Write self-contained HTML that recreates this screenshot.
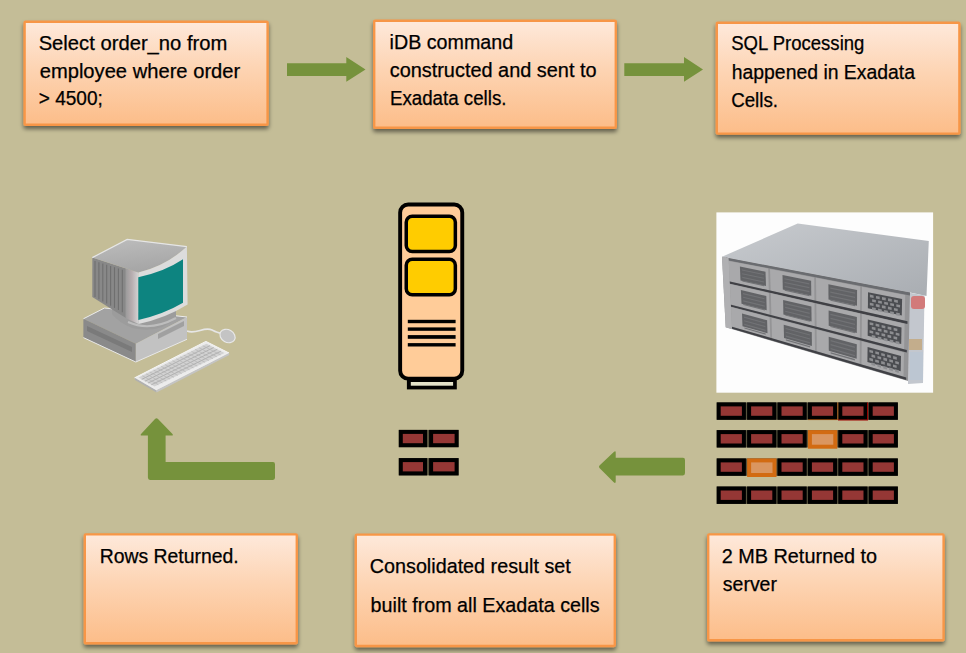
<!DOCTYPE html>
<html><head><meta charset="utf-8">
<style>
html,body{margin:0;padding:0;background:#c4bd97;width:966px;height:653px;overflow:hidden}
svg{position:absolute;left:0;top:0;display:block}
text{font-family:"Liberation Sans",sans-serif;font-size:19.3px;fill:#000;stroke:#000;stroke-width:0.25px}
</style></head><body>
<svg width="966" height="653" viewBox="0 0 966 653">
<defs>
<linearGradient id="g" x1="0" y1="0" x2="0" y2="1">
<stop offset="0" stop-color="#fee9db"/>
<stop offset="0.45" stop-color="#fdd4b3"/>
<stop offset="1" stop-color="#fcbd89"/>
</linearGradient>
<filter id="sh" x="-10%" y="-10%" width="120%" height="130%">
<feGaussianBlur in="SourceAlpha" stdDeviation="2.2"/>
<feOffset dx="0" dy="2.5" result="b"/>
<feComponentTransfer><feFuncA type="linear" slope="0.5"/></feComponentTransfer>
<feMerge><feMergeNode/><feMergeNode in="SourceGraphic"/></feMerge>
</filter>
<linearGradient id="stop" x1="0" y1="0" x2="1" y2="1">
<stop offset="0" stop-color="#c8cbcf"/><stop offset="1" stop-color="#a9adb2"/>
</linearGradient>
<linearGradient id="bzs" x1="0" y1="0" x2="1" y2="0">
<stop offset="0" stop-color="#9a9a9a"/><stop offset="0.5" stop-color="#b8aeb0"/><stop offset="1" stop-color="#d4d4d4"/>
</linearGradient>
<pattern id="kb" width="3" height="3" patternUnits="userSpaceOnUse"><rect width="3" height="3" fill="#d8d8d8"/><rect width="2" height="2" fill="#bdbdbd"/></pattern>
<filter id="bl" x="-5%" y="-5%" width="110%" height="110%"><feGaussianBlur stdDeviation="0.55"/></filter>
<linearGradient id="mtop" x1="0" y1="0" x2="0.3" y2="1">
<stop offset="0" stop-color="#bdbdbd"/><stop offset="1" stop-color="#a6a6a6"/>
</linearGradient>
</defs>
<rect width="966" height="653" fill="#c4bd97"/>

<!-- boxes -->
<g filter="url(#sh)" stroke="#f79646" stroke-width="2.4" fill="url(#g)">
<rect x="24.6" y="21.7" width="243" height="103.1" rx="0.9"/>
<rect x="374.2" y="20.7" width="241.6" height="107.1" rx="0.9"/>
<rect x="716.8" y="22.8" width="242.6" height="110.8" rx="0.9"/>
<rect x="84.8" y="534.4" width="212" height="108.9" rx="0.9"/>
<rect x="355.8" y="534.6" width="259" height="111.4" rx="0.9"/>
<rect x="708.2" y="534.4" width="235.4" height="105.9" rx="0.9"/>
</g>

<!-- arrows -->
<g fill="#76923c">
<path d="M287 63.3H346.3V57L365.5 69.4L346.3 81.7V75.9H287Z"/>
<path d="M624.3 63.3H684V57L703 69.4L684 81.7V75.9H624.3Z"/>
<path d="M685 460Q685 457.8 683 457.8H615.7V452.5Q615.7 450.2 613.8 452L599.5 465.5Q598.3 466.7 599.5 468L613.5 482Q615.7 484 615.7 481.5V475.4H683Q685 475.4 685 473Z"/>
<path d="M275 464.2Q275 462.1 273 462.1H165.6V435.6H171.5Q174 435.6 172 433.5L158 419Q156.5 417.5 155 419L141.5 433.5Q139.5 435.6 142 435.6H147.9V477.5Q147.9 479.9 150 479.9H273Q275 479.9 275 477.8Z"/>
</g>

<rect x="716.4" y="212.4" width="216.7" height="180.3" fill="#fdfdfd"/>
<g filter="url(#bl)">
<polygon points="722,256.8 797.7,223.5 928.8,241 926.5,296 910,292.5" fill="url(#stop)"/>
<polygon points="908.5,292.5 924.5,295.5 923,383 908,384" fill="#c3c7ce"/>
<polygon points="722.0,256.8 910.0,292.5 908.0,381.0 725.7,327.3" fill="#949496" />
<polygon points="725.8,257.5 910.0,292.5 909.9,295.6 725.9,260.0" fill="#6a6c70" />
<polygon points="728.7,260.9 768.2,268.5 768.8,290.3 729.7,281.5" fill="#a9a9ab" />
<polygon points="739.9,266.6 765.5,271.7 766.0,285.9 740.5,280.4" fill="#626366" />
<polygon points="741.9,269.6 763.7,274.0 763.8,275.1 741.9,270.6" fill="#727376" />
<polygon points="742.1,273.2 763.8,277.7 763.9,278.8 742.1,274.3" fill="#727376" />
<polygon points="742.2,276.8 764.0,281.4 764.0,282.5 742.3,277.9" fill="#727376" />
<polygon points="742.4,280.4 764.1,285.1 764.1,286.3 742.4,281.5" fill="#727376" />
<polygon points="770.0,268.9 814.2,277.5 814.4,300.5 770.7,290.7" fill="#a9a9ab" />
<polygon points="782.5,275.1 811.1,280.8 811.3,295.8 782.8,289.6" fill="#626366" />
<polygon points="784.4,278.2 809.3,283.2 809.3,284.4 784.4,279.3" fill="#727376" />
<polygon points="784.5,282.0 809.3,287.1 809.3,288.3 784.5,283.1" fill="#727376" />
<polygon points="784.6,285.8 809.4,291.1 809.4,292.3 784.6,287.0" fill="#727376" />
<polygon points="784.7,289.6 809.4,295.0 809.5,296.2 784.7,290.8" fill="#727376" />
<polygon points="816.0,277.8 860.2,286.4 860.0,310.7 816.3,300.9" fill="#a9a9ab" />
<polygon points="828.4,284.3 857.1,290.0 857.0,305.8 828.5,299.6" fill="#626366" />
<polygon points="830.3,287.5 855.2,292.5 855.2,293.8 830.3,288.7" fill="#727376" />
<polygon points="830.3,291.5 855.1,296.7 855.1,297.9 830.3,292.7" fill="#727376" />
<polygon points="830.3,295.6 855.1,300.8 855.1,302.1 830.4,296.8" fill="#727376" />
<polygon points="830.4,299.6 855.1,305.0 855.1,306.2 830.4,300.8" fill="#727376" />
<polygon points="862.0,286.8 905.2,295.1 904.7,320.7 861.9,311.1" fill="#a9a9ab" />
<polygon points="868.0,292.2 902.1,298.9 901.8,315.6 867.9,308.2" fill="#4c4d51" />
<polygon points="869.9,294.6 873.6,295.4 873.6,297.9 869.9,297.2" fill="#8d8e91" />
<polygon points="872.1,299.2 875.9,299.9 875.8,302.5 872.1,301.7" fill="#8d8e91" />
<polygon points="869.8,302.8 873.6,303.6 873.5,306.1 869.8,305.3" fill="#8d8e91" />
<polygon points="872.0,307.3 875.8,308.1 875.7,310.7 872.0,309.9" fill="#8d8e91" />
<polygon points="876.0,295.9 879.7,296.6 879.7,299.2 875.9,298.4" fill="#8d8e91" />
<polygon points="878.2,300.4 881.9,301.2 881.9,303.8 878.1,303.0" fill="#8d8e91" />
<polygon points="875.9,304.0 879.6,304.8 879.6,307.4 875.8,306.6" fill="#8d8e91" />
<polygon points="878.1,308.6 881.8,309.4 881.8,312.0 878.0,311.2" fill="#8d8e91" />
<polygon points="882.0,297.1 885.8,297.8 885.7,300.4 882.0,299.7" fill="#8d8e91" />
<polygon points="884.2,301.7 888.0,302.4 887.9,305.0 884.2,304.2" fill="#8d8e91" />
<polygon points="881.9,305.3 885.6,306.1 885.6,308.7 881.9,307.9" fill="#8d8e91" />
<polygon points="884.1,309.9 887.8,310.7 887.8,313.3 884.1,312.5" fill="#8d8e91" />
<polygon points="888.1,298.3 891.8,299.1 891.8,301.7 888.0,300.9" fill="#8d8e91" />
<polygon points="890.3,302.9 894.0,303.7 894.0,306.3 890.2,305.5" fill="#8d8e91" />
<polygon points="888.0,306.6 891.7,307.4 891.6,310.0 887.9,309.2" fill="#8d8e91" />
<polygon points="890.1,311.2 893.9,312.0 893.8,314.6 890.1,313.8" fill="#8d8e91" />
<polygon points="894.1,299.5 897.9,300.3 897.8,302.9 894.1,302.1" fill="#8d8e91" />
<polygon points="896.3,304.2 900.1,304.9 900.0,307.6 896.3,306.8" fill="#8d8e91" />
<polygon points="894.0,307.9 897.7,308.7 897.7,311.3 893.9,310.5" fill="#8d8e91" />
<polygon points="896.2,312.5 899.9,313.3 899.8,316.0 896.1,315.2" fill="#8d8e91" />
<polygon points="728.8,281.3 907.5,321.3 907.4,323.9 728.9,283.4" fill="#3f4145" />
<polygon points="729.9,284.0 768.9,292.9 769.6,314.6 730.9,304.6" fill="#a9a9ab" />
<polygon points="740.9,290.1 766.3,296.0 766.7,310.2 741.5,303.8" fill="#626366" />
<polygon points="742.9,293.1 764.5,298.2 764.6,299.3 743.0,294.2" fill="#727376" />
<polygon points="743.1,296.7 764.6,301.9 764.7,303.0 743.1,297.8" fill="#727376" />
<polygon points="743.2,300.3 764.8,305.6 764.8,306.7 743.3,301.4" fill="#727376" />
<polygon points="743.4,303.9 764.9,309.3 764.9,310.5 743.4,305.0" fill="#727376" />
<polygon points="770.8,293.3 814.5,303.2 814.7,326.2 771.4,315.1" fill="#a9a9ab" />
<polygon points="783.1,299.9 811.4,306.5 811.6,321.5 783.4,314.4" fill="#626366" />
<polygon points="785.0,303.0 809.6,308.8 809.6,310.0 785.0,304.2" fill="#727376" />
<polygon points="785.1,306.8 809.7,312.8 809.7,314.0 785.1,308.0" fill="#727376" />
<polygon points="785.2,310.7 809.7,316.7 809.7,317.9 785.2,311.8" fill="#727376" />
<polygon points="785.3,314.5 809.8,320.7 809.8,321.8 785.3,315.6" fill="#727376" />
<polygon points="816.3,303.7 860.0,313.6 859.9,337.9 816.6,326.7" fill="#a9a9ab" />
<polygon points="828.6,310.5 856.9,317.1 856.8,332.9 828.7,325.8" fill="#626366" />
<polygon points="830.4,313.7 855.1,319.6 855.0,320.8 830.4,315.0" fill="#727376" />
<polygon points="830.5,317.8 855.0,323.7 855.0,325.0 830.5,319.0" fill="#727376" />
<polygon points="830.5,321.8 855.0,327.9 855.0,329.1 830.5,323.0" fill="#727376" />
<polygon points="830.5,325.9 855.0,332.0 855.0,333.3 830.5,327.1" fill="#727376" />
<polygon points="861.9,314.0 904.6,323.7 904.1,349.3 861.7,338.4" fill="#a9a9ab" />
<polygon points="867.8,319.6 901.5,327.5 901.2,344.1 867.7,335.7" fill="#4c4d51" />
<polygon points="869.6,322.2 873.4,323.0 873.3,325.6 869.6,324.7" fill="#8d8e91" />
<polygon points="871.8,326.8 875.5,327.6 875.5,330.2 871.8,329.3" fill="#8d8e91" />
<polygon points="869.6,330.3 873.3,331.2 873.2,333.7 869.5,332.8" fill="#8d8e91" />
<polygon points="871.8,334.9 875.4,335.8 875.4,338.4 871.7,337.5" fill="#8d8e91" />
<polygon points="875.6,323.6 879.4,324.4 879.3,327.0 875.6,326.1" fill="#8d8e91" />
<polygon points="877.8,328.2 881.5,329.1 881.5,331.7 877.8,330.8" fill="#8d8e91" />
<polygon points="875.6,331.8 879.3,332.7 879.2,335.2 875.5,334.3" fill="#8d8e91" />
<polygon points="877.7,336.4 881.4,337.3 881.4,339.9 877.7,339.0" fill="#8d8e91" />
<polygon points="881.6,325.0 885.4,325.9 885.3,328.4 881.6,327.6" fill="#8d8e91" />
<polygon points="883.8,329.6 887.5,330.5 887.5,333.1 883.8,332.2" fill="#8d8e91" />
<polygon points="881.5,333.2 885.2,334.1 885.2,336.7 881.5,335.8" fill="#8d8e91" />
<polygon points="883.7,337.9 887.4,338.8 887.3,341.4 883.7,340.5" fill="#8d8e91" />
<polygon points="887.6,326.4 891.4,327.3 891.3,329.9 887.6,329.0" fill="#8d8e91" />
<polygon points="889.8,331.1 893.5,332.0 893.5,334.6 889.8,333.7" fill="#8d8e91" />
<polygon points="887.5,334.7 891.2,335.6 891.2,338.2 887.5,337.3" fill="#8d8e91" />
<polygon points="889.7,339.4 893.4,340.3 893.3,342.9 889.6,342.0" fill="#8d8e91" />
<polygon points="893.6,327.8 897.4,328.7 897.3,331.3 893.6,330.4" fill="#8d8e91" />
<polygon points="895.8,332.5 899.5,333.4 899.4,336.0 895.7,335.1" fill="#8d8e91" />
<polygon points="893.5,336.2 897.2,337.1 897.1,339.7 893.5,338.8" fill="#8d8e91" />
<polygon points="895.6,340.9 899.3,341.8 899.3,344.4 895.6,343.5" fill="#8d8e91" />
<polygon points="730.0,304.4 906.8,350.0 906.8,352.6 730.1,306.5" fill="#3f4145" />
<polygon points="731.0,307.1 769.6,317.2 770.3,337.8 732.0,326.7" fill="#a9a9ab" />
<polygon points="742.0,313.6 767.1,320.3 767.5,333.3 742.5,326.2" fill="#626366" />
<polygon points="743.9,316.6 765.3,322.4 765.3,323.5 744.0,317.7" fill="#727376" />
<polygon points="744.1,320.2 765.4,326.1 765.5,327.2 744.1,321.3" fill="#727376" />
<polygon points="744.2,323.8 765.6,329.8 765.6,330.9 744.3,324.9" fill="#727376" />
<polygon points="744.4,327.4 765.7,333.5 765.7,334.7 744.4,328.5" fill="#727376" />
<polygon points="771.5,317.7 814.7,329.0 815.0,350.8 772.1,338.4" fill="#a9a9ab" />
<polygon points="783.7,324.7 811.8,332.2 811.9,346.0 784.0,338.0" fill="#626366" />
<polygon points="785.6,327.9 810.0,334.5 810.0,335.6 785.6,329.0" fill="#727376" />
<polygon points="785.7,331.7 810.0,338.4 810.0,339.6 785.7,332.8" fill="#727376" />
<polygon points="785.8,335.5 810.1,342.3 810.1,343.5 785.8,336.7" fill="#727376" />
<polygon points="785.9,339.3 810.1,346.3 810.1,347.5 785.9,340.5" fill="#727376" />
<polygon points="816.6,329.5 859.8,340.8 859.7,363.8 816.8,351.4" fill="#a9a9ab" />
<polygon points="828.7,336.7 856.8,344.2 856.7,358.8 828.8,350.8" fill="#626366" />
<polygon points="830.6,340.0 854.9,346.6 854.9,347.9 830.6,341.2" fill="#727376" />
<polygon points="830.6,344.1 854.9,350.8 854.9,352.0 830.6,345.3" fill="#727376" />
<polygon points="830.6,348.1 854.9,354.9 854.9,356.2 830.6,349.3" fill="#727376" />
<polygon points="830.6,352.2 854.9,359.1 854.9,360.4 830.6,353.4" fill="#727376" />
<polygon points="861.7,341.3 904.0,352.4 903.5,376.6 861.5,364.4" fill="#a9a9ab" />
<polygon points="867.6,347.1 901.0,356.0 900.7,371.3 867.4,361.9" fill="#4c4d51" />
<polygon points="869.4,349.7 873.1,350.7 873.0,353.2 869.4,352.2" fill="#8d8e91" />
<polygon points="871.6,354.3 875.2,355.4 875.2,357.9 871.5,356.9" fill="#8d8e91" />
<polygon points="869.3,357.8 873.0,358.8 873.0,361.4 869.3,360.3" fill="#8d8e91" />
<polygon points="871.5,362.5 875.1,363.5 875.1,366.1 871.4,365.0" fill="#8d8e91" />
<polygon points="875.3,351.3 879.0,352.3 879.0,354.8 875.3,353.8" fill="#8d8e91" />
<polygon points="877.5,356.0 881.2,357.0 881.1,359.6 877.5,358.5" fill="#8d8e91" />
<polygon points="875.2,359.5 878.9,360.5 878.9,363.1 875.2,362.0" fill="#8d8e91" />
<polygon points="877.4,364.2 881.0,365.2 881.0,367.8 877.4,366.7" fill="#8d8e91" />
<polygon points="881.3,352.9 884.9,353.9 884.9,356.5 881.2,355.5" fill="#8d8e91" />
<polygon points="883.4,357.6 887.1,358.6 887.0,361.2 883.4,360.2" fill="#8d8e91" />
<polygon points="881.2,361.1 884.8,362.1 884.8,364.7 881.1,363.7" fill="#8d8e91" />
<polygon points="883.3,365.9 887.0,366.9 886.9,369.5 883.3,368.4" fill="#8d8e91" />
<polygon points="887.2,354.5 890.9,355.5 890.8,358.1 887.2,357.1" fill="#8d8e91" />
<polygon points="889.3,359.2 893.0,360.2 893.0,362.8 889.3,361.8" fill="#8d8e91" />
<polygon points="887.1,362.8 890.7,363.8 890.7,366.4 887.0,365.4" fill="#8d8e91" />
<polygon points="889.2,367.5 892.9,368.6 892.8,371.2 889.2,370.1" fill="#8d8e91" />
<polygon points="893.1,356.1 896.8,357.1 896.8,359.7 893.1,358.7" fill="#8d8e91" />
<polygon points="895.3,360.9 898.9,361.9 898.9,364.5 895.2,363.5" fill="#8d8e91" />
<polygon points="893.0,364.4 896.7,365.5 896.6,368.1 893.0,367.0" fill="#8d8e91" />
<polygon points="895.1,369.2 898.8,370.3 898.7,372.9 895.1,371.8" fill="#8d8e91" />
<polygon points="731.0,326.4 906.2,377.4 906.2,380.0 731.2,328.6" fill="#3f4145" />
<polygon points="722.0,256.8 728.6,258.0 732.1,329.2 725.7,327.3" fill="#b0b0b2" />
<rect x="911" y="296" width="14" height="13" rx="3" fill="#d27a7a"/>
<rect x="909" y="339" width="13" height="11" fill="#c3ad8c"/>
<rect x="910" y="352" width="13" height="28" fill="#bcc6d2"/>
</g>
<polygon points="134.7,377.8 205.9,341.4 229,353 156.2,390.3" fill="#ececec" stroke="#f6f6f6" stroke-width="1"/>
<polygon points="138.5,377.6 206.5,343.8 224.5,353.0 154.5,386.6" fill="#d2d2d2" />
<line x1="141.7" y1="379.4" x2="210.1" y2="345.6" stroke="#a8a8a8" stroke-width="0.8"/>
<line x1="144.9" y1="381.2" x2="213.7" y2="347.5" stroke="#a8a8a8" stroke-width="0.8"/>
<line x1="148.1" y1="383.0" x2="217.3" y2="349.3" stroke="#a8a8a8" stroke-width="0.8"/>
<line x1="151.3" y1="384.8" x2="220.9" y2="351.2" stroke="#a8a8a8" stroke-width="0.8"/>
<line x1="142.3" y1="375.7" x2="158.4" y2="384.7" stroke="#b4b4b4" stroke-width="0.7"/>
<line x1="146.1" y1="373.8" x2="162.3" y2="382.9" stroke="#b4b4b4" stroke-width="0.7"/>
<line x1="149.8" y1="372.0" x2="166.2" y2="381.0" stroke="#b4b4b4" stroke-width="0.7"/>
<line x1="153.6" y1="370.1" x2="170.1" y2="379.1" stroke="#b4b4b4" stroke-width="0.7"/>
<line x1="157.4" y1="368.2" x2="173.9" y2="377.3" stroke="#b4b4b4" stroke-width="0.7"/>
<line x1="161.2" y1="366.3" x2="177.8" y2="375.4" stroke="#b4b4b4" stroke-width="0.7"/>
<line x1="164.9" y1="364.5" x2="181.7" y2="373.5" stroke="#b4b4b4" stroke-width="0.7"/>
<line x1="168.7" y1="362.6" x2="185.6" y2="371.7" stroke="#b4b4b4" stroke-width="0.7"/>
<line x1="172.5" y1="360.7" x2="189.5" y2="369.8" stroke="#b4b4b4" stroke-width="0.7"/>
<line x1="176.3" y1="358.8" x2="193.4" y2="367.9" stroke="#b4b4b4" stroke-width="0.7"/>
<line x1="180.1" y1="356.9" x2="197.3" y2="366.1" stroke="#b4b4b4" stroke-width="0.7"/>
<line x1="183.8" y1="355.1" x2="201.2" y2="364.2" stroke="#b4b4b4" stroke-width="0.7"/>
<line x1="187.6" y1="353.2" x2="205.1" y2="362.3" stroke="#b4b4b4" stroke-width="0.7"/>
<line x1="191.4" y1="351.3" x2="208.9" y2="360.5" stroke="#b4b4b4" stroke-width="0.7"/>
<line x1="195.2" y1="349.4" x2="212.8" y2="358.6" stroke="#b4b4b4" stroke-width="0.7"/>
<line x1="198.9" y1="347.6" x2="216.7" y2="356.7" stroke="#b4b4b4" stroke-width="0.7"/>
<line x1="202.7" y1="345.7" x2="220.6" y2="354.9" stroke="#b4b4b4" stroke-width="0.7"/>
<polygon points="134.7,377.8 156.2,390.3 156.5,392.5 135,380" fill="#b0b0b0"/>
<polygon points="156.2,390.3 229,353 229.3,355 156.5,392.5" fill="#c4c4c4"/>
<path d="M187,331 C196,335 204,326 212,330 S220,333 222,333" fill="none" stroke="#e6e6e6" stroke-width="1.6"/>
<ellipse cx="227.5" cy="336" rx="8" ry="6.3" transform="rotate(30 227.5 336)" fill="#c4c4c4" stroke="#e8e8e8" stroke-width="1.2"/>
<polygon points="83.4,318.8 104.5,308 187,317 135.8,343.8" fill="#a2a2a2"/>
<polygon points="83.4,318.8 135.8,343.8 135.8,362 83.4,337.6" fill="#8a8a8a"/>
<polygon points="87,326 132,347 132,352 87,331" fill="#7a7a7a"/>
<polygon points="135.8,343.8 187,317 187,339.3 135.8,362" fill="#c2c2c2"/>
<polygon points="158,334 184,321 184,326 158,339" fill="#a0a0a0"/>
<polyline points="83.4,318.8 104.5,308 187,317" fill="none" stroke="#ececec" stroke-width="1"/>
<polyline points="83.4,337.6 135.8,362 187,339.3" fill="none" stroke="#e8e8e8" stroke-width="1"/>
<path d="M112,306 L140,318 L176,308 L176,318 Q160,334 132,328 Q118,322 112,314 Z" fill="#9c9c9c"/>
<path d="M128,322 Q150,332 176,318" fill="none" stroke="#bdbdbd" stroke-width="2"/>
<polygon points="92.3,257.6 126,268.5 126,318 118.6,313.6 92.3,297" fill="#888888"/>
<line x1="95.0" y1="261.0" x2="95.0" y2="297.1" stroke="#6f6f6f" stroke-width="1.1"/>
<line x1="98.9" y1="262.2" x2="98.9" y2="299.3" stroke="#6f6f6f" stroke-width="1.1"/>
<line x1="102.8" y1="263.5" x2="102.8" y2="301.4" stroke="#6f6f6f" stroke-width="1.1"/>
<line x1="106.7" y1="264.7" x2="106.7" y2="303.6" stroke="#6f6f6f" stroke-width="1.1"/>
<line x1="110.6" y1="266.0" x2="110.6" y2="305.7" stroke="#6f6f6f" stroke-width="1.1"/>
<line x1="114.5" y1="267.2" x2="114.5" y2="307.9" stroke="#6f6f6f" stroke-width="1.1"/>
<line x1="118.4" y1="268.4" x2="118.4" y2="310.0" stroke="#6f6f6f" stroke-width="1.1"/>
<line x1="122.3" y1="269.7" x2="122.3" y2="312.2" stroke="#6f6f6f" stroke-width="1.1"/>
<polygon points="125.5,268.3 138.5,272.5 138.5,324 125.5,318" fill="url(#bzs)"/>
<path d="M92.3,257.6 L127.2,239.4 L186.9,246.6 Q166,266 138.5,272.5 Z" fill="url(#mtop)"/>
<polyline points="92.3,257.6 127.2,239.4 186.9,246.6" fill="none" stroke="#e6e6e6" stroke-width="1.2"/>
<path d="M138.5,272.5 Q166,266 186.9,246.6 L187.6,304.5 Q166,318 138.5,324 Z" fill="#dcdcdc"/>
<path d="M138.3,277.2 Q164,272 183,259.3 L183,302.7 Q164,314 138.3,320 Z" fill="#0d8480"/>
<rect x="400.15" y="204.45" width="62.1" height="174.2" rx="8" fill="#ffcc99" stroke="#000" stroke-width="3.9"/>
<rect x="406.25" y="216.15" width="49.1" height="35.3" rx="6" fill="#ffcc00" stroke="#000" stroke-width="3.5"/>
<rect x="406.25" y="259.35" width="49.1" height="35.5" rx="6" fill="#ffcc00" stroke="#000" stroke-width="3.5"/>
<rect x="407.8" y="319.8" width="47.8" height="3.4" fill="#000"/>
<rect x="407.8" y="327.4" width="47.8" height="3.4" fill="#000"/>
<rect x="407.8" y="335.1" width="47.8" height="3.7" fill="#000"/>
<rect x="407.8" y="343.1" width="47.8" height="3.4" fill="#000"/>
<rect x="406.9" y="379" width="49.9" height="10.4" fill="#000"/>
<rect x="410.8" y="382" width="42.3" height="3.7" fill="#e3e2c9"/>
<rect x="398.8" y="429.9" width="59.8" height="17.3" fill="#57533d"/>
<rect x="398.8" y="429.9" width="28.2" height="17.3" fill="#000"/><rect x="402.8" y="433.9" width="20.2" height="9.3" fill="#953735"/>
<rect x="429.1" y="429.9" width="29.5" height="17.3" fill="#000"/><rect x="433.1" y="433.9" width="21.5" height="9.3" fill="#953735"/>
<rect x="398.8" y="458.1" width="59.8" height="17.3" fill="#57533d"/>
<rect x="398.8" y="458.1" width="28.2" height="17.3" fill="#000"/><rect x="402.8" y="462.1" width="20.2" height="9.3" fill="#953735"/>
<rect x="429.1" y="458.1" width="29.5" height="17.3" fill="#000"/><rect x="433.1" y="462.1" width="21.5" height="9.3" fill="#953735"/>
<rect x="716.7" y="402.4" width="181" height="17.4" fill="#57533d"/>
<rect x="716.7" y="402.4" width="29.2" height="17.4" fill="#000"/><rect x="720.7" y="406.4" width="21.2" height="9.4" fill="#953735"/>
<rect x="747.1" y="402.4" width="29.2" height="17.4" fill="#000"/><rect x="751.1" y="406.4" width="21.2" height="9.4" fill="#953735"/>
<rect x="777.5" y="402.4" width="29.2" height="17.4" fill="#000"/><rect x="781.5" y="406.4" width="21.2" height="9.4" fill="#953735"/>
<rect x="807.9" y="402.4" width="29.2" height="17.4" fill="#000"/><rect x="811.9" y="406.4" width="21.2" height="9.4" fill="#953735"/>
<rect x="838.3" y="402.4" width="29.2" height="17.4" fill="#000"/><rect x="842.3" y="406.4" width="21.2" height="9.4" fill="#953735"/>
<rect x="868.7" y="402.4" width="29.2" height="17.4" fill="#000"/><rect x="872.7" y="406.4" width="21.2" height="9.4" fill="#953735"/>
<rect x="716.7" y="430.1" width="181" height="17.4" fill="#57533d"/>
<rect x="716.7" y="430.1" width="29.2" height="17.4" fill="#000"/><rect x="720.7" y="434.1" width="21.2" height="9.4" fill="#953735"/>
<rect x="747.1" y="430.1" width="29.2" height="17.4" fill="#000"/><rect x="751.1" y="434.1" width="21.2" height="9.4" fill="#953735"/>
<rect x="777.5" y="430.1" width="29.2" height="17.4" fill="#000"/><rect x="781.5" y="434.1" width="21.2" height="9.4" fill="#953735"/>
<rect x="807.9" y="430.1" width="29.4" height="18.6" fill="#d26b12"/><rect x="811.9" y="434.1" width="21.4" height="10.6" fill="#da9660"/>
<rect x="838.3" y="430.1" width="29.2" height="17.4" fill="#000"/><rect x="842.3" y="434.1" width="21.2" height="9.4" fill="#953735"/>
<rect x="868.7" y="430.1" width="29.2" height="17.4" fill="#000"/><rect x="872.7" y="434.1" width="21.2" height="9.4" fill="#953735"/>
<rect x="716.7" y="458.4" width="181" height="17.4" fill="#57533d"/>
<rect x="716.7" y="458.4" width="29.2" height="17.4" fill="#000"/><rect x="720.7" y="462.4" width="21.2" height="9.4" fill="#953735"/>
<rect x="747.1" y="458.4" width="29.4" height="18.6" fill="#d26b12"/><rect x="751.1" y="462.4" width="21.4" height="10.6" fill="#da9660"/>
<rect x="777.5" y="458.4" width="29.2" height="17.4" fill="#000"/><rect x="781.5" y="462.4" width="21.2" height="9.4" fill="#953735"/>
<rect x="807.9" y="458.4" width="29.2" height="17.4" fill="#000"/><rect x="811.9" y="462.4" width="21.2" height="9.4" fill="#953735"/>
<rect x="838.3" y="458.4" width="29.2" height="17.4" fill="#000"/><rect x="842.3" y="462.4" width="21.2" height="9.4" fill="#953735"/>
<rect x="868.7" y="458.4" width="29.2" height="17.4" fill="#000"/><rect x="872.7" y="462.4" width="21.2" height="9.4" fill="#953735"/>
<rect x="716.7" y="486.5" width="181" height="17.4" fill="#57533d"/>
<rect x="716.7" y="486.5" width="29.2" height="17.4" fill="#000"/><rect x="720.7" y="490.5" width="21.2" height="9.4" fill="#953735"/>
<rect x="747.1" y="486.5" width="29.2" height="17.4" fill="#000"/><rect x="751.1" y="490.5" width="21.2" height="9.4" fill="#953735"/>
<rect x="777.5" y="486.5" width="29.2" height="17.4" fill="#000"/><rect x="781.5" y="490.5" width="21.2" height="9.4" fill="#953735"/>
<rect x="807.9" y="486.5" width="29.2" height="17.4" fill="#000"/><rect x="811.9" y="490.5" width="21.2" height="9.4" fill="#953735"/>
<rect x="838.3" y="486.5" width="29.2" height="17.4" fill="#000"/><rect x="842.3" y="490.5" width="21.2" height="9.4" fill="#953735"/>
<rect x="868.7" y="486.5" width="29.2" height="17.4" fill="#000"/><rect x="872.7" y="490.5" width="21.2" height="9.4" fill="#953735"/>
<line x1="837.8" y1="402.4" x2="837.8" y2="420" stroke="#c06010" stroke-width="0.8"/>
<line x1="808" y1="419.6" x2="837.8" y2="419.6" stroke="#a05010" stroke-width="0.8"/>
<line x1="867.6" y1="402.4" x2="867.6" y2="420.3" stroke="#a00000" stroke-width="1"/>
<line x1="838" y1="420" x2="867.6" y2="420" stroke="#a00000" stroke-width="1"/>
<!-- text -->
<text x="38.65" y="49.9" textLength="188.75" lengthAdjust="spacingAndGlyphs">Select order_no from</text>
<text x="39.70" y="77.7" textLength="200.54" lengthAdjust="spacingAndGlyphs">employee where order</text>
<text x="38.71" y="105.3" textLength="64.15" lengthAdjust="spacingAndGlyphs">&gt; 4500;</text>
<text x="389.58" y="49.0" textLength="123.54" lengthAdjust="spacingAndGlyphs">iDB command</text>
<text x="389.70" y="76.9" textLength="206.87" lengthAdjust="spacingAndGlyphs">constructed and sent to</text>
<text x="389.93" y="104.8" textLength="116.59" lengthAdjust="spacingAndGlyphs">Exadata cells.</text>
<text x="731.14" y="50.2" textLength="133.25" lengthAdjust="spacingAndGlyphs">SQL Processing</text>
<text x="731.69" y="78.8" textLength="183.37" lengthAdjust="spacingAndGlyphs">happened in Exadata</text>
<text x="731.13" y="106.9" textLength="46.86" lengthAdjust="spacingAndGlyphs">Cells.</text>
<text x="99.69" y="562.5" textLength="138.96" lengthAdjust="spacingAndGlyphs">Rows Returned.</text>
<text x="369.78" y="573.0" textLength="200.97" lengthAdjust="spacingAndGlyphs">Consolidated result set</text>
<text x="370.58" y="612.0" textLength="229.01" lengthAdjust="spacingAndGlyphs">built from all Exadata cells</text>
<text x="721.77" y="562.5" textLength="155.36" lengthAdjust="spacingAndGlyphs">2 MB Returned to</text>
<text x="722.80" y="590.5" textLength="54.17" lengthAdjust="spacingAndGlyphs">server</text>
</svg>
</body></html>
